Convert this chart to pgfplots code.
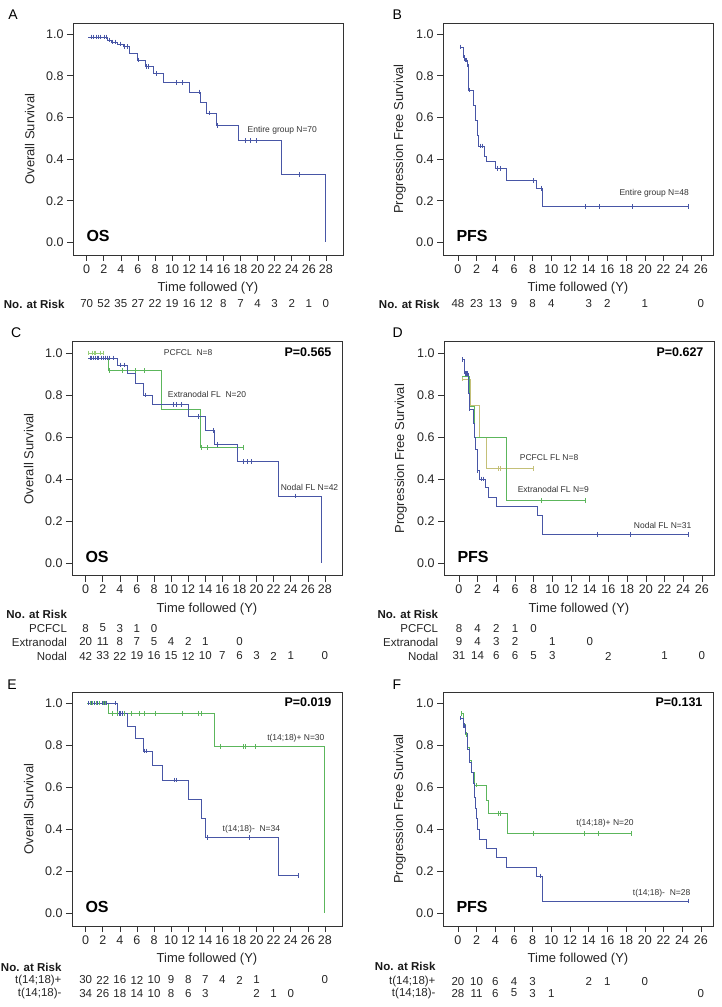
\documentclass[border=0pt]{standalone}
\usepackage{fontspec}
\setmainfont{Liberation Sans}
\usepackage{pgfplots}
\pgfplotsset{compat=1.18}
\definecolor{kmblue}{RGB}{72,86,166}
\definecolor{kmgreen}{RGB}{92,182,92}
\definecolor{kmlight}{RGB}{150,205,120}
\definecolor{kmolive}{RGB}{196,192,120}
\newcommand\fs[1]{\fontsize{#1}{#1}\selectfont}
\pgfplotsset{
 kmaxis/.style={
  scale only axis, width=270pt,
  ymin=-0.06, ymax=1.053,
  ytick={0,0.2,0.4,0.6,0.8,1},
  /pgf/number format/assume math mode=true,
  yticklabel style={/pgf/number format/fixed, /pgf/number format/fixed zerofill, /pgf/number format/precision=1},
  tick align=outside, tick pos=left, major tick length=6pt,
  axis line style={line width=0.8pt, black!80},
  tick style={black!80, line width=0.6pt},
  ticklabel style={font=\fs{12.5}, text=black!85},
  label style={font=\fs{13}, text=black!85},
  clip=false,
  xlabel={Time followed (Y)},
  x label style={at={(axis description cs:0.5,-0.142)},anchor=center},
  y label style={at={(axis description cs:-0.16,0.5)},anchor=center},
 },
 km/.style={const plot, line width=0.6pt, no markers},
 cens/.style={only marks, mark=|, mark size=2.3pt, mark options={line width=0.5pt}},
 risk/.style={draw=none, no markers, nodes near coords={\pgfplotspointmeta}, point meta=explicit symbolic,
   every node near coord/.append style={anchor=center, font=\fs{11.5}, text=black!85, inner sep=0pt}},
}
\begin{document}
\begin{tikzpicture}
\useasboundingbox (0,0) rectangle (721pt,1007pt);
% ---------------- A
\begin{axis}[kmaxis, at={(73pt,752pt)}, anchor=south west, height=232pt, xmin=-1.6, xmax=30, xtick={0,2,...,28}, ylabel={Overall Survival}]
\addplot[km, kmblue] coordinates {(0.2,0.986) (2.45,0.972) (2.9,0.962) (3.6,0.952) (4.3,0.94) (5.0,0.907) (5.87,0.876) (6.85,0.845) (7.85,0.81) (8.93,0.768) (12.0,0.722) (13.3,0.674) (14.0,0.622) (15.15,0.562) (17.8,0.49) (22.8,0.327) (27.9,0)};
\addplot[cens, kmblue] coordinates {(0.5,0.986)(0.8,0.986)(1.1,0.986)(1.4,0.986)(1.6,0.986)(2.1,0.986)(2.3,0.986)(2.7,0.972)(3.0,0.962)(3.3,0.962)(3.9,0.952)(4.4,0.94)(4.7,0.94)(6.0,0.876)(7.0,0.845)(7.2,0.845)(8.1,0.81)(10.5,0.768)(11.2,0.768)(13.2,0.722)(14.3,0.622)(15.3,0.562)(18.6,0.49)(19.1,0.49)(19.8,0.49)(24.9,0.327)};
\addplot[risk] coordinates {(0,-0.295)[70] (2,-0.295)[52] (4,-0.295)[35] (6,-0.295)[27] (8,-0.295)[22] (10,-0.295)[19] (12,-0.295)[16] (14,-0.295)[12] (16,-0.295)[8] (18,-0.295)[7] (20,-0.295)[4] (22,-0.295)[3] (24,-0.295)[2] (26,-0.295)[1] (28,-0.295)[0]};
\node[anchor=east, font=\fs{11.5}\bfseries, text=black!90] at (axis cs:-2.19,-0.295) {No. at Risk};
\node[font=\fs{8.5}, text=black!80] at (axis cs:22.9,0.536) {Entire group N=70};
\node[anchor=west, font=\fs{16}\bfseries] at (rel axis cs:0.037,0.08) {OS};
\node[font=\fs{14}] at (rel axis cs:-0.222,1.034) {A};
\end{axis}
% ---------------- B
\begin{axis}[kmaxis, at={(443pt,752pt)}, anchor=south west, height=232pt, xmin=-1.6, xmax=27.3, xtick={0,2,...,26}, ylabel={Progression Free Survival}]
\addplot[km, kmblue] coordinates {(0.2,0.938) (0.57,0.896) (0.7,0.875) (0.95,0.853) (1.11,0.732) (1.65,0.66) (1.9,0.588) (2.05,0.516) (2.2,0.463) (2.8,0.412) (3.05,0.388) (4.05,0.356) (5.2,0.297) (8.4,0.26) (9.05,0.172) (24.7,0.172)};
\addplot[cens, kmblue] coordinates {(0.25,0.938)(0.6,0.896)(0.75,0.875)(0.8,0.875)(0.85,0.875)(1.0,0.853)(1.2,0.732)(2.4,0.463)(2.65,0.463)(4.2,0.356)(4.5,0.356)(8.1,0.297)(8.95,0.26)(13.6,0.172)(15.1,0.172)(18.7,0.172)(24.7,0.172)};
\addplot[risk] coordinates {(0,-0.295)[48] (2,-0.295)[23] (4,-0.295)[13] (6,-0.295)[9] (8,-0.295)[8] (10,-0.295)[4] (14,-0.295)[3] (16,-0.295)[2] (20,-0.295)[1] (26,-0.295)[0]};
\node[anchor=east, font=\fs{11.5}\bfseries, text=black!90] at (axis cs:-1.6,-0.295) {No. at Risk};
\node[font=\fs{8.5}, text=black!80] at (axis cs:21.0,0.235) {Entire group N=48};
\node[anchor=west, font=\fs{16}\bfseries] at (rel axis cs:0.037,0.08) {PFS};
\node[font=\fs{14}] at (rel axis cs:-0.169,1.034) {B};
\end{axis}
% ---------------- C
\begin{axis}[kmaxis, at={(72pt,431.3pt)}, anchor=south west, height=234pt, xmin=-1.6, xmax=30, xtick={0,2,...,28}, ylabel={Overall Survival}]
\addplot[km, kmlight] coordinates {(0.3,1) (2.1,1)};
\addplot[cens, kmlight] coordinates {(0.3,1)(0.75,1)(0.95,1)(1.15,1)(1.65,1)(2.05,1)};
\addplot[km, kmgreen] coordinates {(0.3,0.976) (2.6,0.916) (8.9,0.733) (13.4,0.55) (18.4,0.55)};
\addplot[cens, kmgreen] coordinates {(2.75,0.916)(4.3,0.916)(5.8,0.916)(6.85,0.916)(13.5,0.55)(14.2,0.55)(18.4,0.55)};
\addplot[km, kmblue] coordinates {(0.3,0.976) (3.7,0.942) (4.9,0.905) (5.8,0.853) (6.8,0.80) (7.8,0.755) (12.0,0.698) (14.0,0.632) (15.1,0.565) (17.7,0.482) (22.6,0.32) (27.6,0)};
\addplot[cens, kmblue] coordinates {(0.5,0.976)(0.7,0.976)(0.9,0.976)(1.1,0.976)(1.3,0.976)(1.5,0.976)(1.8,0.976)(2.0,0.976)(2.3,0.976)(2.5,0.976)(2.8,0.976)(3.2,0.976)(4.1,0.942)(4.5,0.942)(7.0,0.80)(10.3,0.755)(10.6,0.755)(11.2,0.755)(13.2,0.698)(14.9,0.632)(15.4,0.565)(18.4,0.482)(18.9,0.482)(19.4,0.482)(24.5,0.32)};
\addplot[risk] coordinates {(0,-0.309)[8] (2,-0.309)[5] (4,-0.309)[3] (6,-0.309)[1] (8,-0.309)[0]};
\addplot[risk] coordinates {(0,-0.375)[20] (2,-0.375)[11] (4,-0.375)[8] (6,-0.375)[7] (8,-0.375)[5] (10,-0.375)[4] (12,-0.375)[2] (14,-0.375)[1] (18,-0.375)[0]};
\addplot[risk] coordinates {(0,-0.442)[42] (2,-0.442)[33] (4,-0.442)[22] (6,-0.442)[19] (8,-0.442)[16] (10,-0.442)[15] (12,-0.442)[12] (14,-0.442)[10] (16,-0.442)[7] (18,-0.442)[6] (20,-0.442)[3] (22,-0.442)[2] (24,-0.442)[1] (28,-0.442)[0]};
\node[anchor=east, font=\fs{11.5}\bfseries, text=black!90] at (axis cs:-1.78,-0.242) {No. at Risk};
\node[anchor=east, font=\fs{11.5}, text=black!85] at (axis cs:-1.78,-0.309) {PCFCL};
\node[anchor=east, font=\fs{11.5}, text=black!85] at (axis cs:-1.78,-0.375) {Extranodal};
\node[anchor=east, font=\fs{11.5}, text=black!85] at (axis cs:-1.78,-0.442) {Nodal};
\node[font=\fs{8.5}, text=black!80] at (axis cs:12.0,1.0) {PCFCL~~N=8};
\node[font=\fs{8.5}, text=black!80] at (axis cs:14.2,0.80) {Extranodal FL~~N=20};
\node[font=\fs{8.5}, text=black!80] at (axis cs:26.2,0.36) {Nodal FL N=42};
\node[anchor=east, font=\fs{12.5}\bfseries] at (rel axis cs:0.974,0.957) {P=0.565};
\node[anchor=west, font=\fs{16}\bfseries] at (rel axis cs:0.037,0.08) {OS};
\node[font=\fs{14}] at (rel axis cs:-0.207,1.039) {C};
\end{axis}
% ---------------- D
\begin{axis}[kmaxis, at={(444pt,431.3pt)}, anchor=south west, height=234pt, xmin=-1.6, xmax=27.3, xtick={0,2,...,26}, ylabel={Progression Free Survival}]
\addplot[km, kmolive] coordinates {(0.35,0.875) (1.2,0.75) (2.2,0.6) (2.95,0.45) (8.0,0.45)};
\addplot[cens, kmolive] coordinates {(0.3,0.875)(4.2,0.45)(4.4,0.45)(8.0,0.45)};
\addplot[km, kmgreen] coordinates {(0.35,0.889) (1.15,0.747) (1.6,0.597) (5.1,0.299) (13.5,0.299)};
\addplot[cens, kmgreen] coordinates {(8.83,0.299)(13.5,0.299)};
\addplot[km, kmblue] coordinates {(0.4,0.968) (0.55,0.903) (1.05,0.806) (1.1,0.733) (1.5,0.667) (1.65,0.60) (1.8,0.54) (1.95,0.48) (2.0,0.44) (2.15,0.40) (2.85,0.36) (3.15,0.315) (4.05,0.27) (8.35,0.228) (8.9,0.137) (24.5,0.137)};
\addplot[cens, kmblue] coordinates {(0.4,0.968)(0.65,0.903)(0.8,0.903)(0.9,0.903)(1.15,0.733)(2.0,0.44)(2.4,0.40)(2.6,0.40)(14.85,0.137)(18.3,0.137)(24.5,0.137)};
\addplot[risk] coordinates {(0,-0.309)[8] (2,-0.309)[4] (4,-0.309)[2] (6,-0.309)[1] (8,-0.309)[0]};
\addplot[risk] coordinates {(0,-0.375)[9] (2,-0.375)[4] (4,-0.375)[3] (6,-0.375)[2] (10,-0.375)[1] (14,-0.375)[0]};
\addplot[risk] coordinates {(0,-0.442)[31] (2,-0.442)[14] (4,-0.442)[6] (6,-0.442)[6] (8,-0.442)[5] (10,-0.442)[3] (16,-0.442)[2] (22,-0.442)[1] (26,-0.442)[0]};
\node[anchor=east, font=\fs{11.5}\bfseries, text=black!90] at (axis cs:-1.85,-0.242) {No. at Risk};
\node[anchor=east, font=\fs{11.5}, text=black!85] at (axis cs:-1.85,-0.309) {PCFCL};
\node[anchor=east, font=\fs{11.5}, text=black!85] at (axis cs:-1.85,-0.375) {Extranodal};
\node[anchor=east, font=\fs{11.5}, text=black!85] at (axis cs:-1.85,-0.442) {Nodal};
\node[font=\fs{8.5}, text=black!80] at (axis cs:9.65,0.50) {PCFCL FL N=8};
\node[font=\fs{8.5}, text=black!80] at (axis cs:10.1,0.348) {Extranodal FL N=9};
\node[font=\fs{8.5}, text=black!80] at (axis cs:21.8,0.177) {Nodal FL N=31};
\node[anchor=east, font=\fs{12.5}\bfseries] at (rel axis cs:0.974,0.957) {P=0.627};
\node[anchor=west, font=\fs{16}\bfseries] at (rel axis cs:0.037,0.08) {PFS};
\node[font=\fs{14}] at (rel axis cs:-0.172,1.039) {D};
\end{axis}
% ---------------- E
\begin{axis}[kmaxis, at={(72pt,81pt)}, anchor=south west, height=234pt, xmin=-1.6, xmax=30, xtick={0,2,...,28}, ylabel={Overall Survival}]
\addplot[km, kmgreen] coordinates {(0.2,1) (2.6,0.952) (15.1,0.793) (27.9,0)};
\addplot[cens, kmgreen] coordinates {(0.5,1)(0.8,1)(1.2,1)(1.6,1)(2.0,1)(2.3,1)(3.1,0.952)(3.7,0.952)(4.0,0.952)(4.3,0.952)(4.5,0.952)(5.3,0.952)(6.3,0.952)(6.8,0.952)(8.1,0.952)(11.3,0.952)(13.2,0.952)(13.5,0.952)(15.7,0.793)(18.5,0.793)(18.7,0.793)(19.8,0.793)};
\addplot[km, kmblue] coordinates {(0.3,1) (3.67,0.952) (4.84,0.89) (5.86,0.833) (6.72,0.773) (7.81,0.703) (8.94,0.634) (12.03,0.543) (13.51,0.452) (14.02,0.362) (22.6,0.181) (24.9,0.181)};
\addplot[cens, kmblue] coordinates {(0.3,1)(0.6,1)(1.0,1)(1.4,1)(1.9,1)(2.2,1)(2.4,1)(3.5,1)(3.9,0.952)(4.1,0.952)(4.3,0.952)(6.9,0.773)(7.1,0.773)(10.4,0.634)(10.6,0.634)(14.2,0.362)(19.1,0.362)(24.9,0.181)};
\addplot[risk] coordinates {(0,-0.317)[30] (2,-0.317)[22] (4,-0.317)[16] (6,-0.317)[12] (8,-0.317)[10] (10,-0.317)[9] (12,-0.317)[8] (14,-0.317)[7] (16,-0.317)[4] (18,-0.317)[2] (20,-0.317)[1] (28,-0.317)[0]};
\addplot[risk] coordinates {(0,-0.379)[34] (2,-0.379)[26] (4,-0.379)[18] (6,-0.379)[14] (8,-0.379)[10] (10,-0.379)[8] (12,-0.379)[6] (14,-0.379)[3] (20,-0.379)[2] (22,-0.379)[1] (24,-0.379)[0]};
\node[anchor=east, font=\fs{11.5}\bfseries, text=black!90] at (axis cs:-2.42,-0.255) {No. at Risk};
\node[anchor=east, font=\fs{11.5}, text=black!85] at (axis cs:-2.42,-0.317) {t(14;18)+};
\node[anchor=east, font=\fs{11.5}, text=black!85] at (axis cs:-2.42,-0.379) {t(14;18)-};
\node[font=\fs{8.5}, text=black!80] at (axis cs:24.6,0.835) {t(14;18)+ N=30};
\node[font=\fs{8.5}, text=black!80] at (axis cs:19.4,0.40) {t(14;18)-~~N=34};
\node[anchor=east, font=\fs{12.5}\bfseries] at (rel axis cs:0.974,0.957) {P=0.019};
\node[anchor=west, font=\fs{16}\bfseries] at (rel axis cs:0.037,0.08) {OS};
\node[font=\fs{14}] at (rel axis cs:-0.222,1.033) {E};
\end{axis}
% ---------------- F
\begin{axis}[kmaxis, at={(443pt,81pt)}, anchor=south west, height=234pt, xmin=-1.6, xmax=27.3, xtick={0,2,...,26}, ylabel={Progression Free Survival}]
\addplot[km, kmgreen] coordinates {(0.35,0.95) (0.6,0.9) (0.8,0.85) (1.05,0.79) (1.2,0.73) (1.45,0.67) (1.7,0.61) (3.0,0.54) (3.3,0.475) (5.25,0.38) (18.6,0.38)};
\addplot[cens, kmgreen] coordinates {(0.4,0.95)(0.9,0.85)(2.0,0.61)(4.3,0.475)(4.5,0.475)(8.1,0.38)(13.5,0.38)(15.0,0.38)(18.6,0.38)};
\addplot[km, kmblue] coordinates {(0.25,0.929) (0.6,0.893) (0.8,0.857) (0.95,0.82) (1.05,0.78) (1.2,0.72) (1.4,0.67) (1.65,0.62) (1.8,0.55) (1.9,0.50) (2.0,0.45) (2.1,0.40) (2.3,0.354) (3.0,0.31) (4.1,0.265) (5.2,0.221) (8.4,0.177) (9.0,0.059) (24.7,0.059)};
\addplot[cens, kmblue] coordinates {(0.25,0.929)(0.55,0.893)(0.7,0.893)(8.8,0.177)(24.7,0.059)};
\addplot[risk] coordinates {(0,-0.322)[20] (2,-0.322)[10] (4,-0.322)[6] (6,-0.322)[4] (8,-0.322)[3] (14,-0.322)[2] (16,-0.322)[1] (20,-0.322)[0]};
\addplot[risk] coordinates {(0,-0.379)[28] (2,-0.379)[11] (4,-0.379)[6] (6,-0.379)[5] (8,-0.379)[3] (10,-0.379)[1] (26,-0.379)[0]};
\node[anchor=east, font=\fs{11.5}\bfseries, text=black!90] at (axis cs:-2.03,-0.252) {No. at Risk};
\node[anchor=east, font=\fs{11.5}, text=black!85] at (axis cs:-2.03,-0.322) {t(14;18)+};
\node[anchor=east, font=\fs{11.5}, text=black!85] at (axis cs:-2.03,-0.379) {t(14;18)-};
\node[font=\fs{8.5}, text=black!80] at (axis cs:15.74,0.429) {t(14;18)+ N=20};
\node[font=\fs{8.5}, text=black!80] at (axis cs:21.8,0.095) {t(14;18)-~~N=28};
\node[anchor=east, font=\fs{12.5}\bfseries] at (rel axis cs:0.974,0.957) {P=0.131};
\node[anchor=west, font=\fs{16}\bfseries] at (rel axis cs:0.037,0.08) {PFS};
\node[font=\fs{14}] at (rel axis cs:-0.171,1.031) {F};
\end{axis}
\end{tikzpicture}
\end{document}
